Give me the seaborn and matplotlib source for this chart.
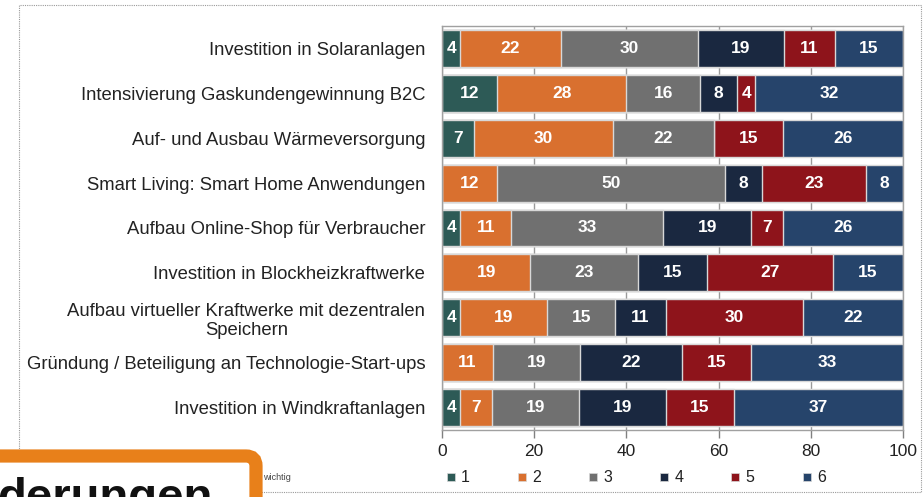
import numpy as np
import pandas as pd
import matplotlib
matplotlib.use("Agg")
import matplotlib.pyplot as plt
import matplotlib.transforms as mtransforms
from matplotlib.patches import FancyBboxPatch, Rectangle
from matplotlib.lines import Line2D
import seaborn as sns

# Data (share of answers, ratings 1..6)
categories = [
    "Investition in Solaranlagen",
    "Intensivierung Gaskundengewinnung B2C",
    "Auf- und Ausbau Wärmeversorgung",
    "Smart Living: Smart Home Anwendungen",
    "Aufbau Online-Shop für Verbraucher",
    "Investition in Blockheizkraftwerke",
    "Aufbau virtueller Kraftwerke mit dezentralen\nSpeichern",
    "Gründung / Beteiligung an Technologie-Start-ups",
    "Investition in Windkraftanlagen",
]
v1 = [4, 12, 7, 0, 4, 0, 4, 0, 4]
v2 = [22, 28, 30, 12, 11, 19, 19, 11, 7]
v3 = [30, 16, 22, 50, 33, 23, 15, 19, 19]
v4 = [19, 8, 0, 8, 19, 15, 11, 22, 19]
v5 = [11, 4, 15, 23, 7, 27, 30, 15, 15]
v6 = [15, 32, 26, 8, 26, 15, 22, 33, 37]
levels = ["1", "2", "3", "4", "5", "6"]
colors = ["#2d5a56", "#d9702f", "#707070", "#1a2840", "#8e141b", "#26446b"]

df = pd.DataFrame({"1": v1, "2": v2, "3": v3, "4": v4, "5": v5, "6": v6})
df["category"] = categories

# rounded values don't always sum to 100 -> scale each row to 100
share = df[levels].div(df[levels].sum(axis=1), axis=0) * 100
cum = share.cumsum(axis=1)
cum["category"] = categories

sns.set_style("white")
plt.rcParams["font.family"] = ["Liberation Sans", "DejaVu Sans"]

fig = plt.figure(figsize=(9.24, 4.97), dpi=100)
W, H = 924, 497
ax = fig.add_axes([442 / W, 1 - 430 / H, 461 / W, 404 / H])

# stacked bars: draw cumulative totals from the last level down
for lev, col in reversed(list(zip(levels, colors))):
    sns.barplot(data=cum, x=lev, y="category", orient="h", color=col,
                saturation=1, width=0.82, edgecolor="#d8d8d8", linewidth=1,
                ax=ax)

# value labels
for i in range(len(categories)):
    left = 0
    for lev in levels:
        val = df.loc[i, lev]
        w = share.loc[i, lev]
        if val > 0:
            ax.text(left + w / 2, i, str(val), ha="center", va="center",
                    color="white", fontsize=12.5, fontweight="bold")
        left += w

ax.set_xlim(0, 100)
ax.set_ylim(len(categories) - 0.5, -0.5)
ax.set_xticks([0, 20, 40, 60, 80, 100])
ax.set_xlabel("")
ax.set_ylabel("")
ax.xaxis.grid(True, color="#9a9a9a", linewidth=1)
ax.set_axisbelow(True)
for s in ax.spines.values():
    s.set_visible(True)
    s.set_color("#a0a0a0")
    s.set_linewidth(1)
ax.tick_params(axis="x", length=6, width=1, color="#808080", direction="out",
               labelsize=12.5, labelcolor="#222222", pad=4, bottom=True)
ax.tick_params(axis="y", length=0, labelsize=13.3, labelcolor="#222222", pad=12)
for t in ax.get_yticklabels():
    t.set_multialignment("center")

# legend
handles = [Line2D([], [], marker="s", linestyle="none", markersize=6,
                  markerfacecolor=c, markeredgecolor="#d8d8d8",
                  markeredgewidth=0.5) for c in colors]
fig.legend(handles, levels, loc="center left", ncol=6, frameon=False,
           bbox_to_anchor=(446 / W, 1 - 478 / H), fontsize=11.5,
           handlelength=0.6, handletextpad=0.35, columnspacing=2.95,
           labelcolor="#222222", borderaxespad=0, borderpad=0)

px = mtransforms.IdentityTransform()

# dotted frame around the chart
fig.add_artist(Rectangle((19, 5), 902, 487, transform=px, fill=False,
                         edgecolor="#9a9a9a", linewidth=0.8,
                         linestyle=(0, (1, 1)), zorder=1))

fig.text(263, 19, "wichtig", transform=px, fontsize=6.5, color="#444444",
         va="center", ha="left", zorder=2)

# orange callout box overlapping the bottom left corner
fig.add_artist(FancyBboxPatch((-30, -40), 286, 81, transform=px,
                              boxstyle="round,pad=0,rounding_size=10",
                              facecolor="white", edgecolor="#e8801a",
                              linewidth=9.5, zorder=5))
fig.text(-3, -14, "derungen", transform=px, fontsize=34, fontweight="bold",
         color="#111111", ha="left", va="baseline", zorder=6)

fig.savefig("out.png", dpi=100)
